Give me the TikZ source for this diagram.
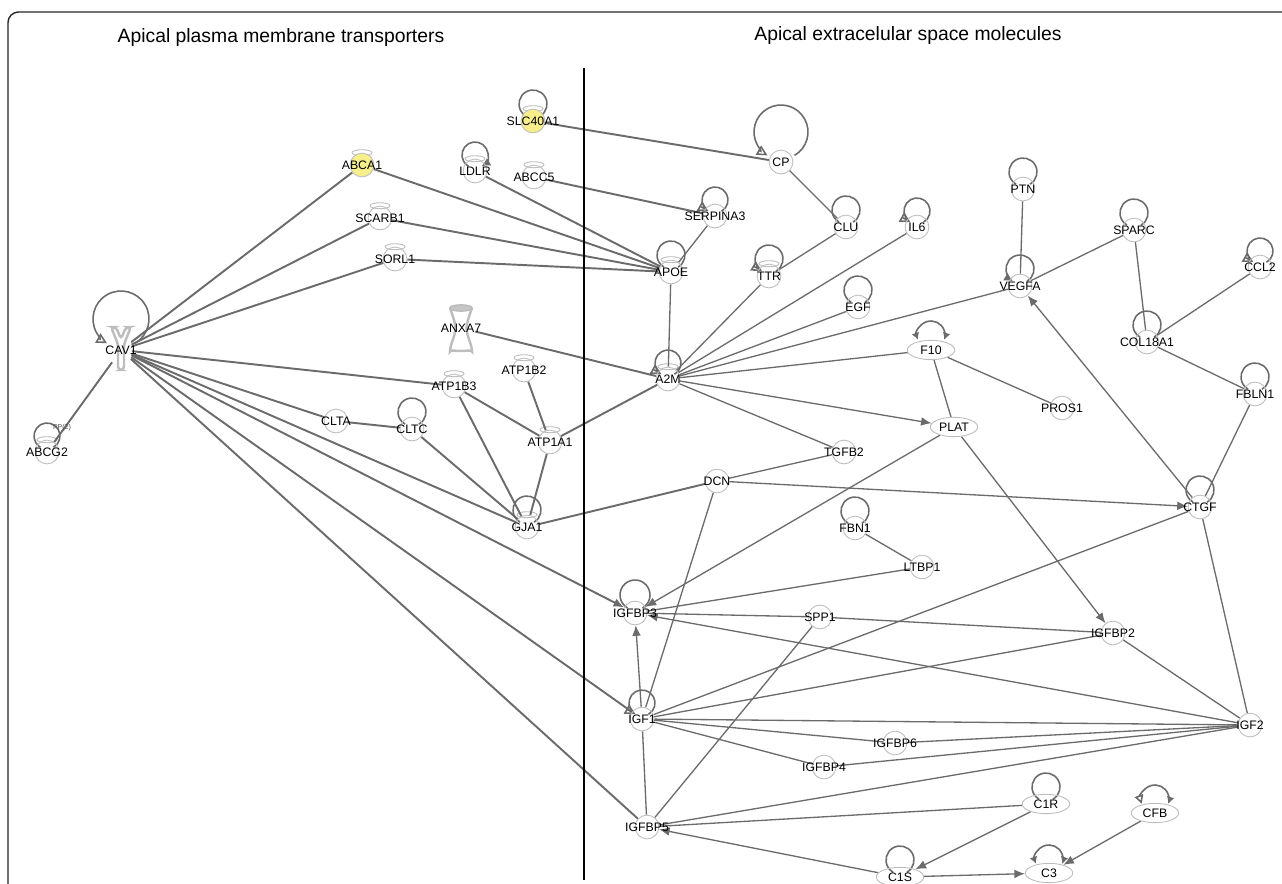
\documentclass[tikz,border=0pt]{standalone}
\usepackage{fontspec}
\setmainfont{Liberation Sans}
\usetikzlibrary{arrows.meta,shapes.geometric,calc,backgrounds}

\definecolor{edgegray}{HTML}{6B6B6B}
\definecolor{shapegray}{HTML}{BDBDBD}
\definecolor{hityellow}{HTML}{F7EE8C}

% loop drawn over a molecule: [tips]{node}{radius}
\newcommand{\selfloop}[3][]{%
  \draw[loopline,#1] ($(#2)+(0,-#3-3)$) ++(60:#3) arc[start angle=60, end angle=-240, radius=#3];}
% two-headed loop over an enzyme: [tips]{node}{lift}
\newcommand{\enzloop}[3][]{%
  \draw[loopline,#1] ($(#2)+(0,-#3)$) ++(-200:14) arc[start angle=-200, end angle=20, radius=14];}

\tikzset{
  lbl/.style={font=\fontsize{7}{8}\selectfont, inner sep=0pt},
  mol/.style={circle, draw=shapegray, line width=0.5pt, minimum size=13.5pt, inner sep=0pt, label={[lbl]center:#1}},
  pep/.style={ellipse, draw=shapegray, line width=0.5pt, minimum width=27pt, minimum height=11pt, inner sep=0pt, label={[lbl]center:#1}},
  blank/.style={ellipse, minimum width=12pt, minimum height=24pt, inner sep=0pt, label={[lbl]center:#1}},
  hit/.style={fill=hityellow},
  link/.style={draw=edgegray, line width=1.1pt},
  rlink/.style={draw=edgegray, line width=0.75pt},
  act/.style={-{Latex[length=6pt,width=5pt]}},
  loopline/.style={draw=edgegray, line width=0.9pt},
  openhead/.style={-{Triangle[open,length=6pt,width=6pt]}},
  cup/.style={draw=shapegray, line width=0.5pt},
  glyph/.style={draw=shapegray, line width=1.4pt, rounded corners=2pt},
  title/.style={font=\fontsize{11}{13}\selectfont}
}

\begin{document}
\begin{tikzpicture}[x=0.02cm, y=-0.02cm]
\useasboundingbox (0,0) rectangle (1282,883);
\clip (0,0) rectangle (1282,883);
\draw[black!85, line width=0.8pt, rounded corners=6pt] (8,900) -- (8,12) -- (1300,12);
\draw[black, line width=1.1pt] (584,68) -- (584,880);

\node[title] (ttlA) at (281,37) {Apical plasma membrane transporters};
\node[title] (ttlB) at (908,35) {Apical extracelular space molecules};

%============ plasma membrane
\node[mol=SLC40A1, hit] (SLC40A1) at (533,121) {};
\node[mol=ABCA1, hit] (ABCA1) at (362,165) {};
\node[mol=LDLR] (LDLR) at (475,171) {};
\node[mol=ABCC5] (ABCC5) at (534,177) {};
\node[mol=SCARB1] (SCARB1) at (380,218) {};
\node[mol=SORL1] (SORL1) at (395,259) {};
\node[blank=CAV1] (CAV1) at (121,350) {};
\node[mol=ABCG2] (ABCG2) at (47,452) {};
\node[font=\fontsize{4}{4}\selectfont, text=black!70] (pp) at (62,428) {PP(2)};
\node[blank=ANXA7, minimum width=16pt] (ANXA7) at (461,328) {};
\node[mol=ATP1B2] (ATP1B2) at (524,370) {};
\node[mol=ATP1B3] (ATP1B3) at (454,386) {};
\node[mol=CLTA] (CLTA) at (336,421) {};
\node[mol=CLTC] (CLTC) at (412,429) {};
\node[mol=ATP1A1] (ATP1A1) at (550,442) {};
\node[mol=GJA1] (GJA1) at (527,527) {};
%============ extracellular space
\node[mol=CP] (CP) at (781,162) {};
\node[mol=SERPINA3] (SERPINA3) at (715,216) {};
\node[mol=CLU] (CLU) at (846,227) {};
\node[mol=IL6] (IL6) at (917,227) {};
\node[mol=PTN] (PTN) at (1023,189) {};
\node[mol=SPARC] (SPARC) at (1134,230) {};
\node[mol=CCL2] (CCL2) at (1260,267) {};
\node[mol=APOE] (APOE) at (671,272) {};
\node[mol=TTR] (TTR) at (769,276) {};
\node[mol=VEGFA] (VEGFA) at (1020,286) {};
\node[mol=EGF] (EGF) at (858,307) {};
\node[pep=F10] (F10) at (931,350) {};
\node[mol=COL18A1] (COL18A1) at (1147,342) {};
\node[mol=A2M] (A2M) at (668,379) {};
\node[mol=FBLN1] (FBLN1) at (1255,394) {};
\node[mol=PROS1] (PROS1) at (1062,408) {};
\node[pep=PLAT] (PLAT) at (954,427) {};
\node[mol=TGFB2] (TGFB2) at (844,452) {};
\node[mol=DCN] (DCN) at (717,481) {};
\node[mol=CTGF] (CTGF) at (1200,507) {};
\node[mol=FBN1] (FBN1) at (855,528) {};
\node[mol=LTBP1] (LTBP1) at (922,567) {};
\node[mol=IGFBP3] (IGFBP3) at (635,613) {};
\node[mol=SPP1] (SPP1) at (820,617) {};
\node[mol=IGFBP2] (IGFBP2) at (1113,633) {};
\node[mol=IGF1] (IGF1) at (642,719) {};
\node[mol=IGF2] (IGF2) at (1250,725) {};
\node[mol=IGFBP6] (IGFBP6) at (895,743) {};
\node[mol=IGFBP4] (IGFBP4) at (824,767) {};
\node[pep=C1R] (C1R) at (1046,804) {};
\node[pep=CFB] (CFB) at (1155,813) {};
\node[mol=IGFBP5] (IGFBP5) at (647,827) {};
\node[pep=C1S] (C1S) at (900,877) {};
\node[pep=C3] (C3) at (1049,873) {};

\begin{scope}[on background layer]
% cup tops of the transporters
\foreach \n in {SLC40A1,ABCA1,LDLR,ABCC5,SCARB1,SORL1,ABCG2,ATP1B2,ATP1B3,ATP1A1,GJA1,APOE,TTR,A2M}
  \draw[cup] (\n.north) ellipse (10 and 3);
% Y of CAV1 and hourglass of ANXA7
\draw[glyph, shift={(CAV1.center)}] (-10,-23) -- (-3,-6) -- (-3,20) -- (3,20) -- (3,-6) -- (10,-23) -- (5,-23) -- (0,-11) -- (-5,-23) -- cycle;
\draw[glyph, shift={(ANXA7.center)}] (-11,-20) .. controls (-4,0) .. (-11,20) arc[start angle=180, end angle=360, x radius=11, y radius=-3] .. controls (4,0) .. (11,-20);
\draw[shapegray, fill=gray!45, line width=1pt, shift={(ANXA7.center)}] (0,-20) ellipse (11 and 3);

% self loops
\foreach \n/\r in {SLC40A1/14,ABCG2/13,CLTC/14,GJA1/14,CLU/14,APOE/14,PTN/14,SPARC/14,EGF/14,COL18A1/14,FBLN1/14,CTGF/14,FBN1/14,IGFBP3/15,C1R/14,C1S/14}
  \selfloop{\n}{\r};
\selfloop[{Latex[length=5pt,width=5pt]}-]{LDLR}{13}
\selfloop[openhead]{CAV1}{28}
\selfloop[openhead]{CP}{27}
\selfloop[openhead]{SERPINA3}{13}
\selfloop[openhead]{IL6}{13}
\selfloop[openhead]{TTR}{14}
\selfloop[openhead]{CCL2}{13}
\selfloop[openhead]{A2M}{13}
\selfloop[openhead]{IGF1}{13}
\selfloop[-{Latex[length=5pt,width=5pt]}]{VEGFA}{14}
\enzloop[{Latex[length=4pt,width=4.5pt]}-{Latex[length=4pt,width=4.5pt]}]{F10}{15}
\enzloop[{Latex[length=4pt,width=4.5pt]}-{Latex[length=4pt,width=4.5pt]}]{C3}{14}
\enzloop[{Triangle[open,length=5pt,width=5pt]}-{Latex[length=4pt,width=4.5pt]}]{CFB}{14}

% plasma membrane links
\draw[link] (CAV1) -- (ABCA1);
\draw[link] (CAV1) -- (SCARB1);
\draw[link] (CAV1) -- (SORL1);
\draw[link] (CAV1) -- (ABCG2);
\draw[link] (CAV1) -- (ATP1B3);
\draw[link] (CAV1) -- (CLTA);
\draw[link] (CAV1) -- (GJA1);
\draw[link, act] (CAV1) -- (IGFBP3);
\draw[link] (CAV1) -- (IGF1);
\draw[link] (CAV1) -- (IGFBP5);
\draw[link] (ABCA1) -- (APOE);
\draw[link] (LDLR) -- (APOE);
\draw[link] (SCARB1) -- (APOE);
\draw[link] (SORL1) -- (APOE);
\draw[link] (SLC40A1) -- (CP);
\draw[link] (ABCC5) -- (SERPINA3);
\draw[link] (ANXA7) -- (A2M);
\draw[link] (ATP1A1) -- (A2M);
\draw[link] (GJA1) -- (DCN);
\draw[link] (CLTA) -- (CLTC);
\draw[link] (CLTC) -- (GJA1);
\draw[link] (ATP1B3) -- (GJA1);
\draw[link] (ATP1B3) -- (ATP1A1);
\draw[link] (ATP1B2) -- (ATP1A1);
\draw[link] (ATP1A1) -- (GJA1);

% extracellular links
\draw[rlink] (SERPINA3) -- (APOE);
\draw[rlink] (APOE) -- (A2M);
\draw[rlink] (CP) -- (CLU);
\draw[rlink] (CLU) -- (TTR);
\draw[rlink] (TTR) -- (A2M);
\draw[rlink] (IL6) -- (A2M);
\draw[rlink] (EGF) -- (A2M);
\draw[rlink] (VEGFA) -- (A2M);
\draw[rlink] (F10) -- (A2M);
\draw[rlink, act] (A2M) -- (PLAT);
\draw[rlink] (A2M) -- (TGFB2);
\draw[rlink] (PTN) -- (VEGFA);
\draw[rlink] (SPARC) -- (VEGFA);
\draw[rlink] (SPARC) -- (COL18A1);
\draw[rlink] (CCL2) -- (COL18A1);
\draw[rlink] (COL18A1) -- (FBLN1);
\draw[rlink] (FBLN1) -- (CTGF);
\draw[rlink, act] (CTGF) -- (VEGFA);
\draw[rlink] (F10) -- (PLAT);
\draw[rlink] (F10) -- (PROS1);
\draw[rlink, act] (PLAT) -- (IGFBP3);
\draw[rlink, act] (PLAT) -- (IGFBP2);
\draw[rlink] (TGFB2) -- (DCN);
\draw[rlink, act] (DCN) -- (CTGF);
\draw[rlink] (DCN) -- (IGF1);
\draw[rlink] (CTGF) -- (IGF1);
\draw[rlink] (CTGF) -- (IGF2);
\draw[rlink] (FBN1) -- (LTBP1);
\draw[rlink] (LTBP1) -- (IGFBP3);
\draw[rlink] (IGFBP3) -- (SPP1);
\draw[rlink] (SPP1) -- (IGFBP2);
\draw[rlink] (SPP1) -- (IGFBP5);
\draw[rlink, act] (IGF2) -- (IGFBP3);
\draw[rlink, act] (IGF1) -- (IGFBP3);
\draw[rlink] (IGFBP2) -- (IGF1);
\draw[rlink] (IGFBP2) -- (IGF2);
\draw[rlink] (IGF1) -- (IGF2);
\draw[rlink] (IGF1) -- (IGFBP6);
\draw[rlink] (IGFBP6) -- (IGF2);
\draw[rlink] (IGF1) -- (IGFBP4);
\draw[rlink] (IGFBP4) -- (IGF2);
\draw[rlink] (IGF2) -- (IGFBP5);
\draw[rlink] (IGF1) -- (IGFBP5);
\draw[rlink] (C1R) -- (IGFBP5);
\draw[rlink, act] (C1S) -- (IGFBP5);
\draw[rlink, act] (C1R) -- (C1S);
\draw[rlink, act] (C1S) -- (C3);
\draw[rlink, act] (CFB) -- (C3);
\end{scope}
\end{tikzpicture}
\end{document}
